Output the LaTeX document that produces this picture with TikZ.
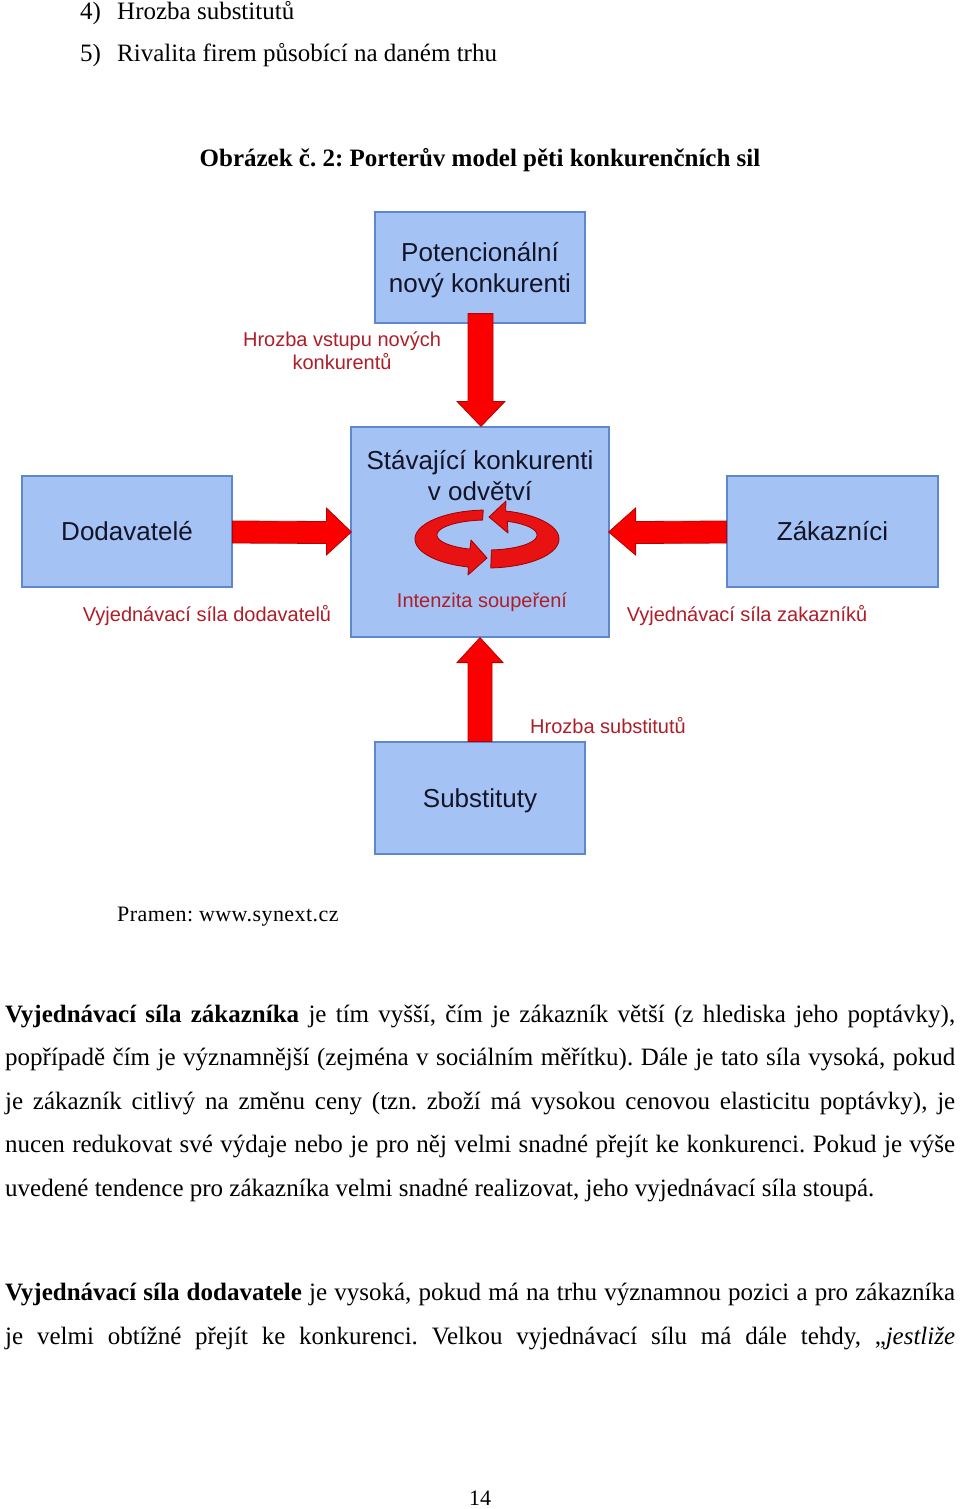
\documentclass[tikz,border=0pt]{standalone}
\usepackage{fontspec}
\setmainfont{Liberation Serif}
\newfontfamily\arialf{Liberation Sans}
\usetikzlibrary{calc}
\frenchspacing
\definecolor{boxfill}{RGB}{164,194,244}
\definecolor{boxline}{RGB}{95,135,205}
\definecolor{boxtext}{RGB}{20,20,40}
\definecolor{lblred}{RGB}{175,30,40}
\definecolor{arrfill}{RGB}{250,0,0}
\definecolor{arrline}{RGB}{185,0,0}
\definecolor{ringfill}{RGB}{232,18,18}
\definecolor{ringline}{RGB}{160,0,0}
\newcommand{\jline}[1]{\hbox to 950pt{#1}}
\tikzset{
  body/.style={anchor=base west, inner sep=0pt, font=\fontsize{25}{30}\selectfont},
  boxnode/.style={draw=boxline, line width=1.2pt, fill=boxfill, inner sep=0pt,
     text=boxtext, align=center, font=\arialf\fontsize{26}{31}\selectfont},
  boxtxt/.style={inner sep=0pt, text=boxtext, align=center, font=\arialf\fontsize{26}{31}\selectfont},
  lbl/.style={inner sep=0pt, text=lblred, align=center, font=\arialf\fontsize{20}{23}\selectfont},
  blockarrow/.style={fill=arrfill, draw=arrline, line width=0.8pt, line join=miter},
  ringarrow/.style={fill=ringfill, draw=ringline, line width=0.8pt, line join=round}
}
\begin{document}
\begin{tikzpicture}[x=1pt,y=-1pt]
\useasboundingbox[fill=white] (0,0) rectangle (960,1509);

% list items
\node[body] (n4) at (80,20) {4)};
\node[body] (t4) at (117,20) {Hrozba substitutů};
\node[body] (n5) at (80,62) {5)};
\node[body] (t5) at (117,62) {Rivalita firem působící na daném trhu};

% caption
\node[inner sep=0pt, anchor=base, font=\bfseries\fontsize{25}{30}\selectfont] (cap) at (480,166)
  {Obrázek č. 2: Porterův model pěti konkurenčních sil};

% boxes
\node[boxnode, minimum width=210pt, minimum height=111pt] (top) at (480,267.5) {};
\node[boxnode, minimum width=258pt, minimum height=210pt] (mid) at (480,532) {};
\node[boxnode, minimum width=210pt, minimum height=111pt] (left) at (127,531.5) {Dodavatelé};
\node[boxnode, minimum width=211pt, minimum height=111pt] (right) at (832.5,531.5) {Zákazníci};
\node[boxnode, minimum width=210pt, minimum height=112pt] (bot) at (480,798) {};

\node[boxtxt] (toptxt) at (480,270.5) {Potencionální\\nový konkurenti};
\node[boxtxt] (midtxt) at (480,476) {Stávající konkurenti\\v odvětví};
\node[boxtxt] (bottxt) at (480,801) {Substituty};
\node[lbl] (intens) at (482,602) {Intenzita soupeření};

% labels
\node[lbl] (lnew) at (342,351) {Hrozba vstupu nových\\konkurentů};
\node[lbl] (lsup) at (207,616) {Vyjednávací síla dodavatelů};
\node[lbl] (lcus) at (747,616) {Vyjednávací síla zakazníků};
\node[lbl] (lsub) at (608,726) {Hrozba substitutů};

% block arrows
% top -> mid
\draw[blockarrow] ($(top.south)+(-12,-10)$) -- ($(top.south)+(13,-10)$)
  -- ($(mid.north)+(13,-25)$) -- ($(mid.north)+(25,-25)$) -- ($(mid.north)+(1,0)$)
  -- ($(mid.north)+(-23,-25)$) -- ($(mid.north)+(-12,-25)$) -- cycle;
% bot -> mid
\draw[blockarrow] ($(bot.north)+(-12,0)$) -- ($(bot.north)+(12,0)$)
  -- ($(mid.south)+(12,25)$) -- ($(mid.south)+(23,25)$) -- ($(mid.south)+(0,0)$)
  -- ($(mid.south)+(-23,25)$) -- ($(mid.south)+(-12,25)$) -- cycle;
% left -> mid
\draw[blockarrow] ($(left.east)+(0,-10.5)$) -- ($(mid.west)+(-24,-10.5)$)
  -- ($(mid.west)+(-24,-24)$) -- ($(mid.west)+(1,0)$) -- ($(mid.west)+(-24,23)$)
  -- ($(mid.west)+(-24,11.5)$) -- ($(left.east)+(0,11.5)$) -- cycle;
% right -> mid
\draw[blockarrow] ($(right.west)+(0,-10.5)$) -- ($(mid.east)+(26,-10.5)$)
  -- ($(mid.east)+(26,-24)$) -- ($(mid.east)+(-1,0)$) -- ($(mid.east)+(26,23)$)
  -- ($(mid.east)+(26,11.5)$) -- ($(right.west)+(0,11.5)$) -- cycle;

% circular arrows
\draw[ringarrow] plot[domain=93:255, samples=50] ({487+72*cos(\x)},{539-29*sin(\x)})
  -- (468,575) -- (487,558) -- (471,540)
  -- plot[domain=250:95, samples=50] ({487+50*cos(\x)},{535-15*sin(\x)}) -- cycle;
\draw[ringarrow] plot[domain=-87:75, samples=50] ({487+72*cos(\x)},{539-29*sin(\x)})
  -- (506,501) -- (489,517) -- (508,533)
  -- plot[domain=66:-85, samples=50] ({487+50*cos(\x)},{535-15*sin(\x)}) -- cycle;

% source
\node[body, font=\fontsize{22}{26}\selectfont\addfontfeatures{LetterSpace=2}] (src) at (117,921) {Pramen: www.synext.cz};

% paragraph 1
\node[body] (p1) at (5,1022) {\jline{\textbf{Vyjednávací síla zákazníka} je tím vyšší, čím je zákazník větší (z hlediska jeho poptávky),}};
\node[body] (p2) at (5,1065) {\jline{popřípadě čím je významnější (zejména v sociálním měřítku). Dále je tato síla vysoká, pokud}};
\node[body] (p3) at (5,1109) {\jline{je zákazník citlivý na změnu ceny (tzn. zboží má vysokou cenovou elasticitu poptávky), je}};
\node[body] (p4) at (5,1152) {\jline{nucen redukovat své výdaje nebo je pro něj velmi snadné přejít ke konkurenci. Pokud je výše}};
\node[body] (p5) at (5,1196) {uvedené tendence pro zákazníka velmi snadné realizovat, jeho vyjednávací síla stoupá.};

% paragraph 2
\node[body] (q1) at (5,1300) {\jline{\textbf{Vyjednávací síla dodavatele} je vysoká, pokud má na trhu významnou pozici a pro zákazníka}};
\node[body] (q2) at (5,1344) {\jline{je velmi obtížné přejít ke konkurenci. Velkou vyjednávací sílu má dále tehdy, „\textit{jestliže}}};

% page number
\node[inner sep=0pt, anchor=base, font=\fontsize{22}{26}\selectfont] (pg) at (480,1505) {14};
\end{tikzpicture}
\end{document}
